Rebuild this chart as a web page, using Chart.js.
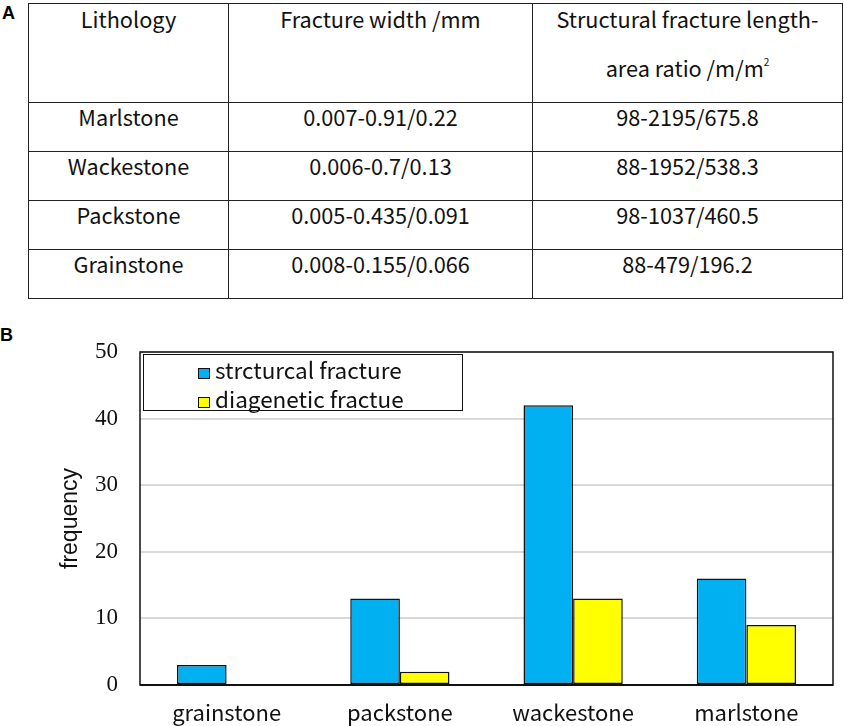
<!DOCTYPE html>
<html lang="en">

<head>
    <meta charset="UTF-8">
    <meta name="viewport" content="width=device-width, initial-scale=1.0">
    <script src="https://cdn.jsdelivr.net/npm/chart.js"></script>
    <title>Fracture statistics</title>
    <style>
        body { margin: 0; background: white; width: 844px; height: 726px; position: relative; overflow: hidden; }
        .panel-label { position: absolute; font-family: "Liberation Sans", Arial, sans-serif; font-weight: bold; font-size: 18px; color: black; }
        table.litho {
            position: absolute; left: 28px; top: 3px; border-collapse: collapse;
            font-family: "Noto Sans CJK SC", "Noto Sans", sans-serif; font-size: 21.7px; color: #111;
        }
        table.litho td { border: 1.5px solid #222; text-align: center; vertical-align: top; padding: 0; }
        table.litho tr.head td { height: 97px; line-height: 49px; }
        table.litho tr.head td div { position: relative; top: -10px; }
        table.litho tr.row td { height: 48px; line-height: 27px; }
        sup { font-size: 10px; line-height: 0; vertical-align: 11px; }
        .chart-box { position: absolute; left: 0; top: 300px; width: 844px; height: 426px; }
        .legend {
            position: absolute; left: 143px; top: 354px; width: 318px; height: 55px;
            border: 1.5px solid #111; background: white;
            font-family: "Noto Sans CJK SC", "Noto Sans", sans-serif; font-size: 22.5px; color: #111;
        }
        .legend div { position: absolute; left: 54px; height: 28px; line-height: 28px; }
        .legend span { display: inline-block; width: 10px; height: 9px; border: 1.2px solid #111; margin-right: 5px; vertical-align: 0px; }
    </style>
</head>

<body>
    <div class="panel-label" style="left:2px; top:3px;">A</div>

    <table class="litho">
        <tr class="head">
            <td style="width:199px"><div>Lithology</div></td>
            <td style="width:303px"><div>Fracture width /mm</div></td>
            <td style="width:309px"><div>Structural fracture length-<br>area ratio /m/m<sup>2</sup></div></td>
        </tr>
        <tbody id="linhas"></tbody>
    </table>

    <div class="panel-label" style="left:0px; top:325px;">B</div>

    <div class="chart-box">
        <canvas id="myChart" width="844" height="426"></canvas>
    </div>

    <div class="legend" id="legenda"></div>
</body>

</html>

<script>
    // tabela A
    var litologias = ['Marlstone', 'Wackestone', 'Packstone', 'Grainstone'];
    var larguraFratura = ['0.007-0.91/0.22', '0.006-0.7/0.13', '0.005-0.435/0.091', '0.008-0.155/0.066'];
    var razaoComprimento = ['98-2195/675.8', '88-1952/538.3', '98-1037/460.5', '88-479/196.2'];

    // grafico B
    var categorias = ['grainstone', 'packstone', 'wackestone', 'marlstone'];
    var estrutural = [3, 13, 42, 16];
    var diagenetica = [0, 2, 13, 9];
    var nomesSeries = ['strcturcal fracture', 'diagenetic fractue'];
    var cores = ['#00B0F0', '#FFFF00'];
    var yTicks = [0, 10, 20, 30, 40, 50];

    var html = '';
    for (var i = 0; i < litologias.length; i++) {
        html += '<tr class="row"><td>' + litologias[i] + '</td><td>' + larguraFratura[i] + '</td><td>' + razaoComprimento[i] + '</td></tr>';
    }
    document.getElementById('linhas').innerHTML = html;

    var leg = '';
    for (var j = 0; j < nomesSeries.length; j++) {
        leg += '<div style="top:' + (j * 29) + 'px"><span style="background:' + cores[j] + '"></span>' + nomesSeries[j] + '</div>';
    }
    document.getElementById('legenda').innerHTML = leg;

    // moldura em volta da area do grafico
    var moldura = {
        id: 'moldura',
        afterDraw: function (chart) {
            var a = chart.chartArea;
            var ctx = chart.ctx;
            ctx.save();
            ctx.strokeStyle = '#111';
            ctx.lineWidth = 1.5;
            ctx.strokeRect(a.left, a.top, a.right - a.left, a.bottom - a.top);
            ctx.lineWidth = 2;
            ctx.beginPath();
            ctx.moveTo(a.left, a.bottom);
            ctx.lineTo(a.right, a.bottom);
            ctx.stroke();
            ctx.restore();
        }
    };

    var fonteCJK = '"Noto Sans CJK SC", "Noto Sans", sans-serif';

    const config = {
        type: 'bar',
        data: {
            labels: categorias,
            datasets: [{
                label: nomesSeries[0],
                data: estrutural,
                backgroundColor: cores[0],
                borderColor: '#111',
                borderWidth: 1.5,
                borderSkipped: false,
                categoryPercentage: 0.573,
                barPercentage: 1
            }, {
                label: nomesSeries[1],
                data: diagenetica,
                backgroundColor: cores[1],
                borderColor: '#111',
                borderWidth: 1.5,
                borderSkipped: false,
                categoryPercentage: 0.573,
                barPercentage: 1
            }]
        },
        options: {
            responsive: false,
            animation: false,
            layout: { padding: { left: 0, top: 52, right: 11, bottom: 0 } },
            plugins: {
                legend: { display: false },
                tooltip: { enabled: false }
            },
            scales: {
                x: {
                    grid: { display: false, drawTicks: false },
                    border: { display: false },
                    ticks: { color: '#111', padding: 14, font: { family: fonteCJK, size: 22 } },
                    afterFit: function (s) { s.height = 41; }
                },
                y: {
                    min: 0,
                    max: 50,
                    afterBuildTicks: function (s) { s.ticks = yTicks.map(function (v) { return { value: v }; }); },
                    grid: { color: '#d9d9d9', lineWidth: 2, drawTicks: false },
                    border: { display: false },
                    ticks: { color: '#111', padding: 22, font: { family: '"Liberation Serif", "Times New Roman", serif', size: 23 } },
                    title: {
                        display: true,
                        text: 'frequency',
                        color: '#111',
                        padding: { top: 57, bottom: 0 },
                        font: { family: '"Liberation Sans", Arial, sans-serif', size: 23 }
                    },
                    afterFit: function (s) { s.width = 140; }
                }
            }
        },
        plugins: [moldura]
    };

    let myChart = new Chart(document.getElementById('myChart'), config);
</script>
